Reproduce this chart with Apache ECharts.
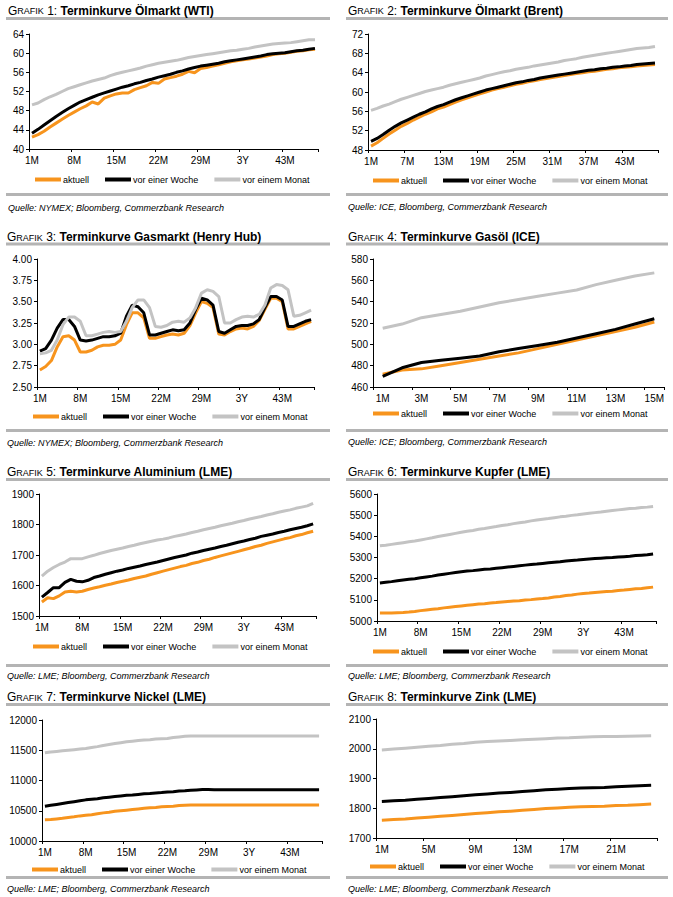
<!DOCTYPE html>
<html><head><meta charset="utf-8">
<script src="https://cdn.jsdelivr.net/npm/echarts@6/dist/echarts.min.js"></script>
<style>html,body{margin:0;padding:0;background:#fff}#c{width:673px;height:897px}</style>
</head><body><div id="c"></div>
<script>
// ---------- categories ----------
const months48 = ["1M","2M","3M","4M","5M","6M","7M","8M","9M","10M","11M","12M","13M","14M","15M","16M","17M","18M","19M","20M","21M","22M","23M","24M","25M","26M","27M","28M","29M","30M","31M","32M","33M","34M","35M","3Y","37M","38M","39M","40M","41M","42M","43M","44M","45M","46M","47M","48M"];
const months48b = ["1M","2M","3M","4M","5M","6M","7M","8M","9M","10M","11M","12M","13M","14M","15M","16M","17M","18M","19M","20M","21M","22M","23M","24M","25M","26M","27M","28M","29M","30M","31M","32M","33M","34M","35M","36M","37M","38M","39M","40M","41M","42M","43M","44M","45M","46M","47M","48M"];
const months15 = ["1M","2M","3M","4M","5M","6M","7M","8M","9M","10M","11M","12M","13M","14M","15M"];
const months24 = ["1M","2M","3M","4M","5M","6M","7M","8M","9M","10M","11M","12M","13M","14M","15M","16M","17M","18M","19M","20M","21M","22M","23M","24M"];
const seriesNames = ["aktuell","vor einer Woche","vor einem Monat"];

// ---------- data ----------
const wtiAktuell = [42.5,43.0,43.7,44.6,45.4,46.2,47.0,47.7,48.4,49.0,49.8,49.4,50.6,51.1,51.5,51.7,51.7,52.4,52.8,53.2,53.9,53.7,54.6,54.9,55.2,55.6,56.2,55.9,56.8,57.0,57.3,57.6,57.9,58.2,58.4,58.6,58.8,59.0,59.2,59.4,59.7,59.9,60.0,60.2,60.4,60.5,60.7,60.8];
const wtiWoche = [43.3,44.1,45.0,45.9,46.8,47.6,48.4,49.1,49.8,50.3,50.8,51.3,51.7,52.1,52.5,52.9,53.2,53.6,53.9,54.3,54.6,55.0,55.3,55.6,56.0,56.3,56.7,57.0,57.3,57.5,57.7,57.9,58.2,58.4,58.6,58.8,59.0,59.2,59.4,59.7,59.9,60.0,60.1,60.3,60.5,60.6,60.8,61.0];
const wtiMonat = [49.2,49.6,50.3,50.9,51.4,52.0,52.6,53.0,53.4,53.8,54.2,54.5,54.8,55.3,55.7,56.0,56.3,56.6,56.9,57.3,57.6,57.9,58.1,58.3,58.5,58.8,59.1,59.3,59.5,59.7,59.9,60.1,60.3,60.5,60.6,60.8,61.0,61.3,61.5,61.7,61.9,62.0,62.1,62.2,62.4,62.6,62.8,62.8];

const brentAktuell = [48.8,49.5,50.4,51.3,52.1,52.9,53.5,54.2,54.8,55.4,55.9,56.5,56.9,57.4,57.9,58.4,58.8,59.2,59.6,60.0,60.4,60.7,61.0,61.3,61.6,61.8,62.1,62.3,62.6,62.8,63.0,63.2,63.4,63.6,63.8,64.0,64.2,64.3,64.5,64.7,64.8,65.0,65.1,65.2,65.4,65.5,65.6,65.7];
const brentWoche = [49.8,50.4,51.2,52.1,52.9,53.6,54.2,54.8,55.4,55.9,56.5,57.0,57.4,57.9,58.4,58.8,59.2,59.6,60.0,60.4,60.7,61.0,61.3,61.6,61.9,62.1,62.4,62.6,62.9,63.1,63.3,63.5,63.7,63.9,64.1,64.3,64.5,64.6,64.8,64.9,65.1,65.2,65.4,65.5,65.7,65.8,65.9,66.0];
const brentMonat = [56.2,56.6,57.1,57.5,58.0,58.5,58.9,59.3,59.7,60.1,60.4,60.7,61.0,61.4,61.7,62.0,62.3,62.6,62.9,63.3,63.6,63.9,64.2,64.4,64.7,64.9,65.1,65.4,65.6,65.8,66.0,66.2,66.5,66.7,66.9,67.2,67.4,67.6,67.8,68.0,68.2,68.4,68.6,68.8,69.0,69.1,69.2,69.4];

const gasAktuell = [2.70,2.74,2.81,2.97,3.09,3.10,3.05,2.91,2.91,2.93,2.97,2.99,2.99,3.00,3.05,3.23,3.37,3.37,3.31,3.07,3.07,3.09,3.11,3.12,3.11,3.13,3.22,3.37,3.50,3.48,3.43,3.12,3.11,3.15,3.18,3.19,3.18,3.21,3.28,3.41,3.54,3.54,3.50,3.18,3.18,3.21,3.24,3.27];
const gasWoche = [2.92,2.95,3.05,3.19,3.29,3.29,3.21,3.05,3.04,3.05,3.07,3.09,3.09,3.10,3.13,3.33,3.46,3.44,3.37,3.11,3.11,3.13,3.15,3.17,3.16,3.17,3.25,3.41,3.54,3.52,3.46,3.15,3.13,3.17,3.21,3.22,3.22,3.24,3.29,3.43,3.56,3.56,3.52,3.21,3.21,3.24,3.27,3.29];
const gasMonat = [2.89,2.90,2.93,3.05,3.23,3.32,3.32,3.27,3.10,3.10,3.12,3.14,3.15,3.14,3.15,3.27,3.43,3.52,3.52,3.43,3.21,3.20,3.22,3.26,3.27,3.26,3.31,3.43,3.60,3.64,3.62,3.56,3.25,3.25,3.29,3.32,3.33,3.32,3.35,3.46,3.66,3.70,3.69,3.64,3.33,3.34,3.37,3.40];

const gasoelAktuell = [472,476,477,480,483,486,489,492,496,500,504,508,512,516,521];
const gasoelWoche = [470,478,483,485,487,489,493,496,499,502,506,510,514,519,524];
const gasoelMonat = [515,519,525,528,531,535,539,542,545,548,551,556,560,564,567];

const aluAktuell = [1546,1560,1557,1566,1579,1581,1579,1581,1587,1592,1596,1601,1605,1610,1614,1618,1623,1627,1631,1637,1642,1647,1652,1657,1662,1666,1672,1676,1682,1686,1692,1697,1702,1707,1712,1717,1722,1728,1732,1738,1743,1748,1753,1757,1763,1767,1773,1778];
const aluWoche = [1562,1577,1593,1593,1610,1620,1614,1612,1617,1626,1631,1637,1642,1647,1651,1656,1660,1664,1669,1673,1677,1682,1687,1692,1696,1700,1706,1710,1715,1719,1723,1728,1732,1737,1742,1746,1751,1755,1761,1765,1769,1774,1778,1783,1787,1791,1796,1802];
const aluMonat = [1631,1647,1659,1669,1677,1688,1688,1688,1694,1699,1705,1710,1715,1719,1723,1728,1732,1737,1741,1745,1749,1752,1756,1761,1765,1769,1774,1778,1783,1787,1791,1796,1800,1804,1809,1813,1818,1822,1826,1831,1835,1840,1844,1848,1853,1857,1861,1869];

const kupferAktuell = [5038,5038,5038,5039,5040,5042,5045,5049,5052,5055,5058,5062,5065,5068,5071,5074,5077,5080,5082,5085,5087,5090,5092,5094,5096,5099,5101,5104,5106,5109,5113,5116,5120,5123,5127,5130,5132,5135,5137,5139,5141,5144,5146,5149,5152,5154,5157,5160];
const kupferWoche = [5180,5183,5186,5190,5194,5197,5200,5204,5208,5212,5217,5221,5225,5229,5233,5236,5238,5241,5244,5246,5249,5252,5255,5258,5261,5264,5267,5269,5272,5275,5278,5280,5283,5286,5288,5291,5293,5295,5297,5299,5300,5302,5304,5306,5309,5311,5313,5316];
const kupferMonat = [5355,5358,5362,5366,5370,5374,5378,5383,5388,5393,5399,5404,5409,5414,5419,5424,5428,5433,5437,5442,5446,5451,5455,5460,5464,5468,5473,5477,5481,5484,5488,5492,5495,5499,5502,5506,5509,5512,5515,5519,5522,5525,5528,5531,5533,5536,5538,5541];

const nickelAktuell = [10350,10355,10365,10375,10390,10400,10415,10425,10435,10450,10465,10475,10490,10500,10510,10520,10530,10540,10550,10555,10565,10570,10575,10585,10590,10595,10595,10595,10595,10595,10595,10595,10595,10595,10595,10595,10595,10595,10595,10595,10595,10595,10595,10595,10595,10595,10595,10595];
const nickelWoche = [10575,10590,10605,10620,10635,10650,10665,10680,10690,10700,10715,10725,10735,10745,10755,10760,10770,10780,10785,10795,10800,10810,10815,10825,10830,10840,10845,10850,10850,10848,10848,10848,10848,10848,10848,10848,10848,10848,10848,10848,10848,10848,10848,10848,10848,10848,10848,10848];
const nickelMonat = [11460,11470,11480,11490,11500,11510,11520,11530,11545,11560,11580,11595,11610,11625,11640,11650,11660,11670,11675,11685,11690,11695,11710,11720,11730,11735,11735,11735,11735,11735,11735,11735,11735,11735,11735,11735,11735,11735,11735,11735,11735,11735,11735,11735,11735,11735,11735,11735];

const zinkAktuell = [1760,1762,1764,1767,1770,1773,1776,1779,1782,1785,1788,1790,1793,1796,1799,1801,1803,1805,1806,1807,1809,1810,1812,1814];
const zinkWoche = [1823,1825,1827,1830,1833,1836,1839,1842,1845,1848,1851,1853,1856,1859,1862,1864,1866,1868,1869,1870,1872,1874,1876,1877];
const zinkMonat = [1996,1999,2002,2005,2008,2011,2015,2018,2022,2024,2026,2028,2030,2032,2034,2036,2037,2039,2040,2041,2041,2042,2043,2044];

// ---------- texts ----------
const titles = ["Terminkurve Ölmarkt (WTI)","Terminkurve Ölmarkt (Brent)","Terminkurve Gasmarkt (Henry Hub)","Terminkurve Gasöl (ICE)","Terminkurve Aluminium (LME)","Terminkurve Kupfer (LME)","Terminkurve Nickel (LME)","Terminkurve Zink (LME)"];
const sources = ["Quelle: NYMEX; Bloomberg, Commerzbank Research","Quelle: ICE, Bloomberg, Commerzbank Research","Quelle: NYMEX; Bloomberg, Commerzbank Research","Quelle: ICE; Bloomberg, Commerzbank Research","Quelle: LME; Bloomberg, Commerzbank Research","Quelle: LME; Bloomberg, Commerzbank Research","Quelle: LME; Bloomberg, Commerzbank Research","Quelle: LME; Bloomberg, Commerzbank Research"];

// ---------- panel setup (layout only) ----------
const panelData = [
  {cats: months48, iv: 6, min: 40, max: 64, step: 4, dec: 0, d: [wtiAktuell, wtiWoche, wtiMonat]},
  {cats: months48b, iv: 5, min: 48, max: 72, step: 4, dec: 0, d: [brentAktuell, brentWoche, brentMonat]},
  {cats: months48, iv: 6, min: 2.5, max: 4.0, step: 0.25, dec: 2, d: [gasAktuell, gasWoche, gasMonat]},
  {cats: months15, iv: 1, min: 460, max: 580, step: 20, dec: 0, d: [gasoelAktuell, gasoelWoche, gasoelMonat]},
  {cats: months48, iv: 6, min: 1500, max: 1900, step: 100, dec: 0, d: [aluAktuell, aluWoche, aluMonat]},
  {cats: months48, iv: 6, min: 5000, max: 5600, step: 100, dec: 0, d: [kupferAktuell, kupferWoche, kupferMonat]},
  {cats: months48, iv: 6, min: 10000, max: 12000, step: 500, dec: 0, d: [nickelAktuell, nickelWoche, nickelMonat]},
  {cats: months24, iv: 3, min: 1700, max: 2100, step: 100, dec: 0, d: [zinkAktuell, zinkWoche, zinkMonat]}
];
const layout = [
  {grid:{left:29,top:34,width:289,height:115}, tx:8, ty:9.5, r1:17, r2:193, src:208, lx:35, ly:181, x0:6, x1:330},
  {grid:{left:368,top:34,width:290,height:116}, tx:348, ty:9.5, r1:17, r2:193, src:207, lx:373, ly:182, x0:346, x1:668},
  {grid:{left:37,top:259,width:277,height:128}, tx:7, ty:236, r1:242.5, r2:429, src:443, lx:33, ly:418, x0:6, x1:330},
  {grid:{left:373,top:259,width:291,height:128}, tx:348, ty:236, r1:242.5, r2:429, src:442, lx:373, ly:415, x0:346, x1:668},
  {grid:{left:39,top:494,width:277,height:122}, tx:7, ty:471, r1:478, r2:664, src:676, lx:33, ly:648, x0:6, x1:330},
  {grid:{left:377,top:494,width:279,height:127}, tx:348, ty:471, r1:478, r2:664, src:676, lx:373, ly:653, x0:346, x1:668},
  {grid:{left:42,top:720,width:280,height:121}, tx:7, ty:696, r1:703, r2:876, src:889, lx:32, ly:871, x0:6, x1:330},
  {grid:{left:376,top:719,width:281,height:119}, tx:348, ty:696, r1:703, r2:876, src:889, lx:370, ly:868, x0:346, x1:668}
];

const FONT = "Arial, 'Liberation Sans', sans-serif";
const COLORS = ['#f7941d', '#000000', '#c3c3c3'];
const RULE = '#b4b4b4';

const option = {animation:false, backgroundColor:'#fff', title:[], grid:[], xAxis:[], yAxis:[], series:[], legend:[], graphic:[]};

panelData.forEach((p, k) => {
  const L = layout[k];
  option.grid.push(Object.assign({containLabel:false}, L.grid));
  option.title.push({
    text: '{g|G}{s|RAFIK}{n| ' + (k+1) + ': }{t|' + titles[k] + '}',
    left: L.tx, top: L.ty - 7, padding: 0,
    textStyle: {
      fontWeight: 'normal',
      rich: {
        g: {fontSize: 12, fontFamily: FONT, fontWeight: 'normal', color: '#000', lineHeight: 14, verticalAlign: 'bottom'},
        s: {fontSize: 9, fontFamily: FONT, fontWeight: 'normal', color: '#000', lineHeight: 14, verticalAlign: 'bottom', padding:[0,0,1,0]},
        n: {fontSize: 12, fontFamily: FONT, fontWeight: 'normal', color: '#000', lineHeight: 14, verticalAlign: 'bottom'},
        t: {fontSize: 12, fontFamily: FONT, fontWeight: 'bold', color: '#000', lineHeight: 14, verticalAlign: 'bottom'}
      }
    }
  });
  option.xAxis.push({
    type: 'category', gridIndex: k, data: p.cats, boundaryGap: true,
    axisLine: {show: true, lineStyle: {color: '#000', width: 1}},
    axisTick: {show: true, interval: p.iv, length: 3, lineStyle: {color: '#000'}},
    axisLabel: {interval: p.iv, fontSize: 10, color: '#000', fontFamily: FONT, margin: 6},
    splitLine: {show: false}
  });
  option.yAxis.push({
    type: 'value', gridIndex: k, min: p.min, max: p.max, interval: p.step,
    axisLine: {show: true, lineStyle: {color: '#000', width: 1}},
    axisTick: {show: true, length: 3, lineStyle: {color: '#000'}},
    axisLabel: {fontSize: 10, color: '#000', fontFamily: FONT, margin: 5,
      formatter: v => v.toFixed(p.dec)},
    splitLine: {show: false}
  });
  p.d.forEach((arr, j) => {
    option.series.push({
      type: 'line', name: seriesNames[j], xAxisIndex: k, yAxisIndex: k,
      data: arr, color: COLORS[j], symbol: 'none', showSymbol: false,
      lineStyle: {width: 3, color: COLORS[j]}, z: 2 + j, silent: true
    });
  });
  option.legend.push({
    left: L.lx, top: L.ly - 6, padding: 0, itemGap: 16, itemWidth: 26, itemHeight: 4,
    icon: 'rect', selectedMode: false, data: seriesNames,
    textStyle: {fontSize: 9, color: '#000', fontFamily: FONT, padding: [0,0,0,-3]}
  });
  option.graphic.push(
    {type: 'rect', shape: {x: L.x0, y: L.r1, width: L.x1 - L.x0, height: 3}, style: {fill: RULE}, silent: true},
    {type: 'rect', shape: {x: L.x0, y: L.r2, width: L.x1 - L.x0, height: 3}, style: {fill: RULE}, silent: true},
    {type: 'text', x: L.tx, y: L.src, style: {text: sources[k], fill: '#000', font: 'italic 9px ' + FONT, textVerticalAlign: 'middle'}, silent: true}
  );
});

const chart = echarts.init(document.getElementById('c'), null, {renderer: 'svg', width: 673, height: 897});
chart.setOption(option);
</script>
</body></html>
